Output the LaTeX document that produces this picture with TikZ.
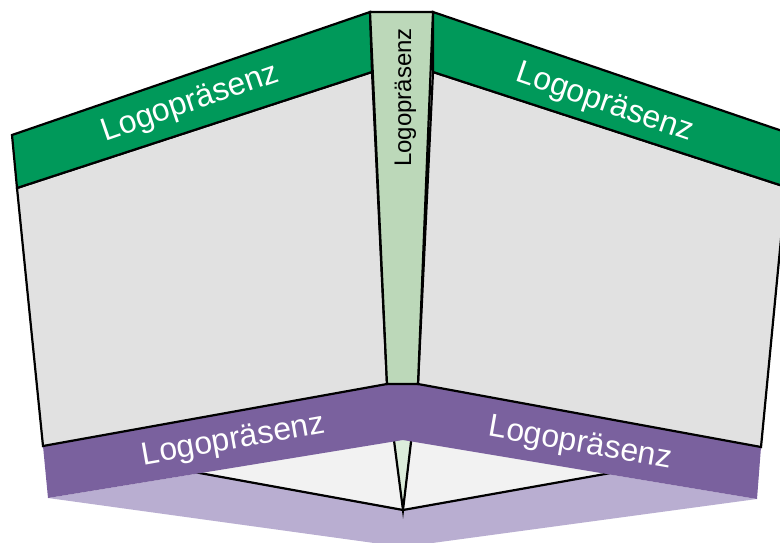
\documentclass[tikz,border=0pt]{standalone}
\usepackage{fontspec}
\setmainfont{Liberation Sans}
\definecolor{bandgreen}{HTML}{00995A}
\definecolor{stripgreen}{HTML}{BCD8B9}
\definecolor{panelgray}{HTML}{E1E1E1}
\definecolor{bandpurple}{HTML}{7A619E}
\definecolor{lightpurple}{HTML}{B9AED1}
\definecolor{floorgray}{HTML}{F2F2F2}
\definecolor{palegreen}{HTML}{DCEDDB}
\tikzset{
  edge/.style={draw=black, line width=2.2pt, line join=miter},
  bandlabel/.style={text=white, font=\fontsize{32}{32}\selectfont, anchor=base, inner sep=0pt},
  striplabel/.style={text=black, font=\fontsize{24}{24}\selectfont, anchor=base, inner sep=0pt}
}
\begin{document}
\begin{tikzpicture}[x=1pt, y=-1pt]
\useasboundingbox (0,0) rectangle (780,543);
\clip (0,0) rectangle (780,543);
% lower light purple band
\fill[lightpurple] (48,498) -- (403,440) -- (757,499) -- (403,547) -- cycle;
% floor
\fill[floorgray] (150,464) -- (403,510) -- (650,466) -- (403,430) -- cycle;
\coordinate (fl) at (150,464);
\coordinate (fb) at (403,510);
\coordinate (fr) at (650,466);
\draw[edge] (fl) -- (fb) -- (fr);
% pale triangle
\coordinate (tl) at (392,425);
\coordinate (tr) at (413,425);
\fill[palegreen] (tl) -- (fb) -- (tr) -- cycle;
\draw[edge] (tl) -- (fb) -- (tr);
% purple bands
\fill[bandpurple] (43,446) -- (387,384) -- (403,384) -- (403,440) -- (48,498) -- cycle;
\fill[bandpurple] (403,384) -- (418,384) -- (761,447) -- (757,499) -- (403,440) -- cycle;
% gray panels
\filldraw[fill=panelgray, edge] (17,188) -- (372,72) -- (387,384) -- (43,446) -- cycle;
\filldraw[fill=panelgray, edge] (433,72) -- (786,187) -- (761,447) -- (418,384) -- cycle;
% green bands
\filldraw[fill=bandgreen, edge] (12,135) -- (370,12) -- (372,72) -- (17,188) -- cycle;
\filldraw[fill=bandgreen, edge] (433,12) -- (791,134) -- (786,187) -- (433,72) -- cycle;
% centre strip
\filldraw[fill=stripgreen, edge] (370,12) -- (433,12) -- (418,384) -- (387,384) -- cycle;
% labels
\node[bandlabel, rotate=19] (tlab) at (193,111) {Logopräsenz};
\node[bandlabel, rotate=-19] (trlab) at (602,111) {Logopräsenz};
\node[bandlabel, rotate=10] (bllab) at (235,449) {Logopräsenz};
\node[bandlabel, rotate=-10] (brlab) at (579,452) {Logopräsenz};
\node[striplabel, rotate=90] (slab) at (411,97.5) {Logopräsenz};
\end{tikzpicture}
\end{document}
